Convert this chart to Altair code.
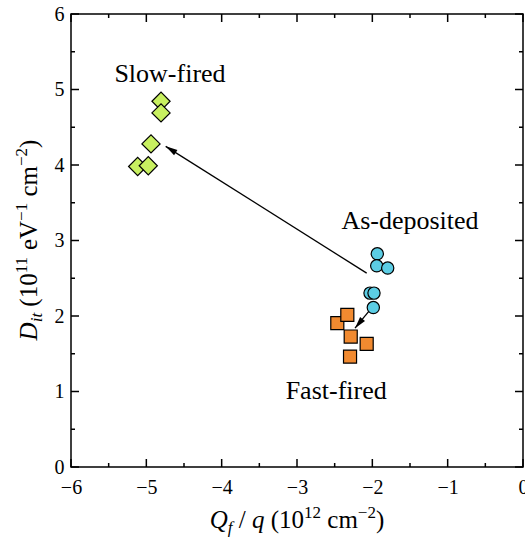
import math
import altair as alt
import pandas as pd

# Slow-fired samples (diamonds)
slow_x = [-4.805, -4.805, -4.938, -5.115, -4.974]
slow_y = [4.844, 4.690, 4.279, 3.980, 3.990]
# As-deposited samples (circles)
dep_x = [-1.934, -1.942, -1.796, -2.031, -1.978, -1.987]
dep_y = [2.824, 2.665, 2.635, 2.303, 2.303, 2.112]
# Fast-fired samples (squares)
fast_x = [-2.465, -2.332, -2.287, -2.075, -2.296]
fast_y = [1.905, 2.015, 1.728, 1.631, 1.462]

# Arrows: start -> tip
arrow_x0 = [-2.075, -2.031]
arrow_y0 = [2.568, 2.082]
arrow_x1 = [-4.743, -2.230]
arrow_y1 = [4.247, 1.839]

labels = ["Slow-fired", "As-deposited", "Fast-fired"]
label_x = [-4.686, -1.50, -2.48]
label_y = [5.105, 3.156, 0.90]

x_major = [-6, -5, -4, -3, -2, -1, 0]
x_minor = [-5.5, -4.5, -3.5, -2.5, -1.5, -0.5]
y_major = [0, 1, 2, 3, 4, 5, 6]
y_minor = [0.5, 1.5, 2.5, 3.5, 4.5, 5.5]

W, H = 452, 453
LEFT, TOP = 71, 14
FONT = "Liberation Serif"

xs = alt.Scale(domain=[-6, 0], nice=False, zero=False)
ys = alt.Scale(domain=[0, 6], nice=False, zero=False)
xaxis = alt.Axis(values=x_major, format="d", labelFont=FONT, labelFontSize=20,
                 labelColor="black", labelPadding=10, ticks=False, domain=False,
                 grid=False, title=None, labelFlush=False, labelOverlap=False)
yaxis = alt.Axis(values=y_major, format="d", labelFont=FONT, labelFontSize=20,
                 labelColor="black", labelPadding=7, ticks=False, domain=False,
                 grid=False, title=None, labelFlush=False, labelOverlap=False)


def X(f):
    return alt.X(f, type="quantitative", scale=xs, axis=xaxis)


def Y(f):
    return alt.Y(f, type="quantitative", scale=ys, axis=yaxis)


def points(xv, yv, shape, size, fill):
    df = pd.DataFrame({"x": xv, "y": yv})
    return alt.Chart(df).mark_point(shape=shape, size=size, filled=True, fill=fill,
                                    stroke="black", strokeWidth=1.2, opacity=1).encode(
        x=X("x"), y=Y("y"))


# arrow shafts and heads
adf = pd.DataFrame({"x0": arrow_x0, "y0": arrow_y0, "x1": arrow_x1, "y1": arrow_y1})
adf["ang"] = [
    math.degrees(math.atan2((b - a) * W / 6, (d - c) * H / 6)) % 360
    for a, b, c, d in zip(arrow_x0, arrow_x1, arrow_y0, arrow_y1)
]
shafts = alt.Chart(adf).mark_rule(color="black", strokeWidth=1.3).encode(
    x=X("x0"), y=Y("y0"), x2="x1", y2="y1")
heads = alt.Chart(adf).mark_point(shape="M0,0L0.45,1.7L-0.45,1.7Z", size=196, filled=True,
                                  fill="black", stroke=None, opacity=1).encode(
    x=X("x1"), y=Y("y1"), angle=alt.Angle("ang:Q", scale=None))

ldf = pd.DataFrame({"t": labels, "x": label_x, "y": label_y})
label_layer = alt.Chart(ldf).mark_text(font=FONT, fontSize=26, color="black",
                                       align="center", baseline="alphabetic").encode(
    x=X("x"), y=Y("y"), text="t:N")


# inward ticks on all four sides
def xticks(vals, length):
    df = pd.DataFrame({"v": vals})
    base = alt.Chart(df).mark_rule(color="black", strokeWidth=1.5)
    return [base.encode(x=X("v"), y=alt.value(H), y2=alt.value(H - length)),
            base.encode(x=X("v"), y=alt.value(0), y2=alt.value(length))]


def yticks(vals, length):
    df = pd.DataFrame({"v": vals})
    base = alt.Chart(df).mark_rule(color="black", strokeWidth=1.5)
    return [base.encode(y=Y("v"), x=alt.value(0), x2=alt.value(length)),
            base.encode(y=Y("v"), x=alt.value(W), x2=alt.value(W - length))]


tick_layers = xticks(x_major, 8) + xticks(x_minor, 4) + yticks(y_major, 8) + yticks(y_minor, 4)

# axis titles built from pieces (italic symbols, sub/superscripts)
EM = {" ": .25, "(": .333, ")": .333, "/": .278, "c": .444, "m": .778, "e": .444,
      "V": .722, "\u2212": .564, "Q": .722, "f": .278, "q": .5, "D": .722, "i": .278,
      "t": .278}
for d in "0123456789":
    EM[d] = .5

TF, SF = 25, 17
one = pd.DataFrame({"a": [0]})


def text_width(s, size):
    return sum(EM.get(ch, .5) for ch in s) * size


def title_layers(pieces, center, base, vertical):
    sizes = {"main": TF, "sup": SF, "sub": SF}
    shift = {"main": 0, "sup": -10, "sub": 5}
    total = sum(g * TF + text_width(t, sizes[r]) for t, r, it, g in pieces)
    pos = center - total / 2 if not vertical else center + total / 2
    out = []
    for t, r, it, g in pieces:
        pos += (g * TF) * (-1 if vertical else 1)
        w = text_width(t, sizes[r])
        if vertical:
            px, py = base + shift[r], pos
        else:
            px, py = pos, base + shift[r]
        out.append(alt.Chart(one).mark_text(
            text=t, font=FONT, fontSize=sizes[r], fontStyle="italic" if it else "normal",
            color="black", align="left", baseline="alphabetic",
            angle=270 if vertical else 0).encode(
            x=alt.value(px - LEFT), y=alt.value(py - TOP)))
        pos += w * (-1 if vertical else 1)
    return out


x_title = [("Q", "main", True, 0), ("f", "sub", True, 0), ("/", "main", False, .25),
           ("q", "main", True, .25), ("(10", "main", False, .25), ("12", "sup", False, 0),
           ("cm", "main", False, .25), ("\u22122", "sup", False, 0), (")", "main", False, 0)]
y_title = [("D", "main", True, 0), ("it", "sub", True, 0), ("(10", "main", False, .25),
           ("11", "sup", False, 0), ("eV", "main", False, .25), ("\u22121", "sup", False, 0),
           ("cm", "main", False, .25), ("\u22122", "sup", False, 0), (")", "main", False, 0)]

layers = (tick_layers + [shafts, heads,
                         points(slow_x, slow_y, "diamond", 330, "#c8f060"),
                         points(dep_x, dep_y, "circle", 150, "#5ccde4"),
                         points(fast_x, fast_y, "square", 170, "#f18a30"),
                         label_layer]
          + title_layers(x_title, 297, 528, False)
          + title_layers(y_title, 240, 37, True))

chart = alt.layer(*layers).properties(
    width=W, height=H,
    autosize=alt.AutoSizeParams(type="none"),
    padding={"left": LEFT, "top": TOP, "right": 525 - LEFT - W, "bottom": 540 - TOP - H},
    background="white",
).configure_view(stroke="black", strokeWidth=1.5)

chart.save("out.html", embed_options={"renderer": "svg", "actions": False})
